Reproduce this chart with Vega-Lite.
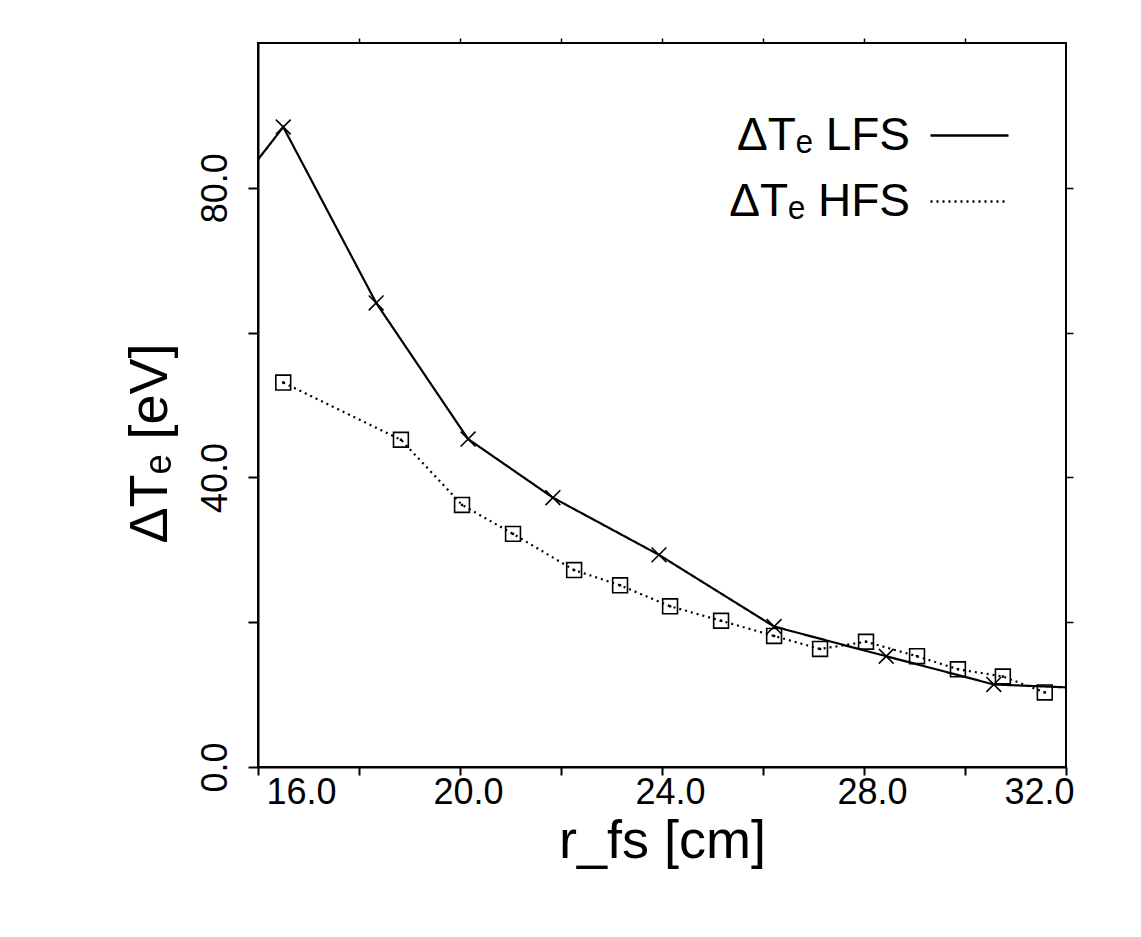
{
  "$schema": "https://vega.github.io/schema/vega-lite/v6.json",
  "width": 808,
  "height": 724,
  "autosize": {"type": "none"},
  "padding": {"left": 258, "top": 43, "right": 75, "bottom": 170},
  "background": "white",
  "config": {
    "view": {"stroke": "black", "strokeWidth": 2},
    "font": "Liberation Sans",
    "axis": {"grid": false, "domainColor": "black", "tickColor": "black", "labelColor": "black", "titleColor": "black", "titleFontWeight": "normal"}
  },
  "resolve": {"axis": {"x": "independent", "y": "independent"}},
  "data": {
    "values": [
      {"series": "LFS", "r": 16.0, "dT": 83.9, "kind": "edge"},
      {"series": "LFS", "r": 16.5, "dT": 88.4, "kind": "point"},
      {"series": "LFS", "r": 18.34, "dT": 64.1, "kind": "point"},
      {"series": "LFS", "r": 20.16, "dT": 45.3, "kind": "point"},
      {"series": "LFS", "r": 21.84, "dT": 37.2, "kind": "point"},
      {"series": "LFS", "r": 23.94, "dT": 29.3, "kind": "point"},
      {"series": "LFS", "r": 26.22, "dT": 19.4, "kind": "point"},
      {"series": "LFS", "r": 28.44, "dT": 15.3, "kind": "point"},
      {"series": "LFS", "r": 30.57, "dT": 11.4, "kind": "point"},
      {"series": "LFS", "r": 32.0, "dT": 11.0, "kind": "edge"},
      {"series": "HFS", "r": 16.5, "dT": 53.1, "kind": "point"},
      {"series": "HFS", "r": 18.83, "dT": 45.2, "kind": "point"},
      {"series": "HFS", "r": 20.04, "dT": 36.2, "kind": "point"},
      {"series": "HFS", "r": 21.05, "dT": 32.2, "kind": "point"},
      {"series": "HFS", "r": 22.26, "dT": 27.2, "kind": "point"},
      {"series": "HFS", "r": 23.17, "dT": 25.1, "kind": "point"},
      {"series": "HFS", "r": 24.16, "dT": 22.2, "kind": "point"},
      {"series": "HFS", "r": 25.17, "dT": 20.2, "kind": "point"},
      {"series": "HFS", "r": 26.22, "dT": 18.1, "kind": "point"},
      {"series": "HFS", "r": 27.13, "dT": 16.3, "kind": "point"},
      {"series": "HFS", "r": 28.04, "dT": 17.3, "kind": "point"},
      {"series": "HFS", "r": 29.05, "dT": 15.3, "kind": "point"},
      {"series": "HFS", "r": 29.86, "dT": 13.5, "kind": "point"},
      {"series": "HFS", "r": 30.75, "dT": 12.5, "kind": "point"},
      {"series": "HFS", "r": 31.58, "dT": 10.3, "kind": "point"}
    ]
  },
  "layer": [
    {
      "mark": {"type": "line", "color": "black", "strokeWidth": 2.2, "clip": true},
      "encoding": {
        "x": {
          "field": "r", "type": "quantitative",
          "scale": {"domain": [16, 32], "nice": false, "zero": false},
          "axis": {
            "values": [16, 18, 20, 22, 24, 26, 28, 30, 32],
            "labelExpr": "datum.value % 4 == 0 ? format(datum.value, '.1f') : ''",
            "labelFontSize": 36, "labelPadding": 0, "labelOffset": 8, "tickSize": 8, "tickWidth": 2, "domainWidth": 2,
            "title": "r_fs [cm]", "titleFontSize": 54, "titlePadding": 4
          }
        },
        "y": {
          "field": "dT", "type": "quantitative",
          "scale": {"domain": [0, 100], "nice": false},
          "axis": {
            "values": [0, 20, 40, 60, 80],
            "labelExpr": "datum.value % 40 == 0 ? format(datum.value, '.1f') : ''",
            "labelAngle": 270, "labelFontSize": 36, "labelPadding": 14, "tickSize": 10, "tickWidth": 2, "domainWidth": 2,
            "title": "ΔTₑ [eV]", "titleFontSize": 54, "titlePadding": 20, "titleY": 400
          }
        },
        "detail": {"field": "series"},
        "strokeDash": {
          "field": "series", "type": "nominal",
          "scale": {"domain": ["LFS", "HFS"], "range": [[1, 0], [2, 4]]},
          "legend": {
            "title": null, "orient": "top-right", "offset": 52,
            "symbolType": "stroke", "symbolSize": 6084, "symbolStrokeWidth": 2.5, "symbolStrokeColor": "black",
            "labelFontSize": 46, "labelColor": "black", "labelAlign": "right", "labelOffset": -100, "labelLimit": 0,
            "rowPadding": 2,
            "labelExpr": "'ΔTₑ ' + datum.label"
          }
        }
      }
    },
    {
      "transform": [{"filter": "datum.kind == 'point'"}],
      "mark": {"type": "point", "filled": false, "color": "black", "strokeWidth": 1.6, "opacity": 1},
      "encoding": {
        "x": {
          "field": "r", "type": "quantitative",
          "axis": {"orient": "top", "values": [18, 20, 22, 24, 26, 28, 30], "labels": false, "tickSize": 5, "tickWidth": 1.5, "domain": false, "title": null}
        },
        "y": {
          "field": "dT", "type": "quantitative",
          "axis": {"orient": "right", "values": [20, 40, 60, 80], "labels": false, "tickSize": 7, "tickWidth": 1.5, "domain": false, "title": null}
        },
        "shape": {
          "condition": {"test": "datum.series == 'LFS'", "value": "M-1,-1L1,1M-1,1L1,-1"},
          "value": "square"
        },
        "size": {"value": 220}
      }
    },
    {
      "transform": [{"filter": "datum.kind == 'point' && datum.series == 'HFS'"}],
      "mark": {"type": "point", "filled": true, "color": "black", "shape": "square", "size": 6, "opacity": 1},
      "encoding": {
        "x": {"field": "r", "type": "quantitative", "axis": null},
        "y": {"field": "dT", "type": "quantitative", "axis": null}
      }
    }
  ]
}
